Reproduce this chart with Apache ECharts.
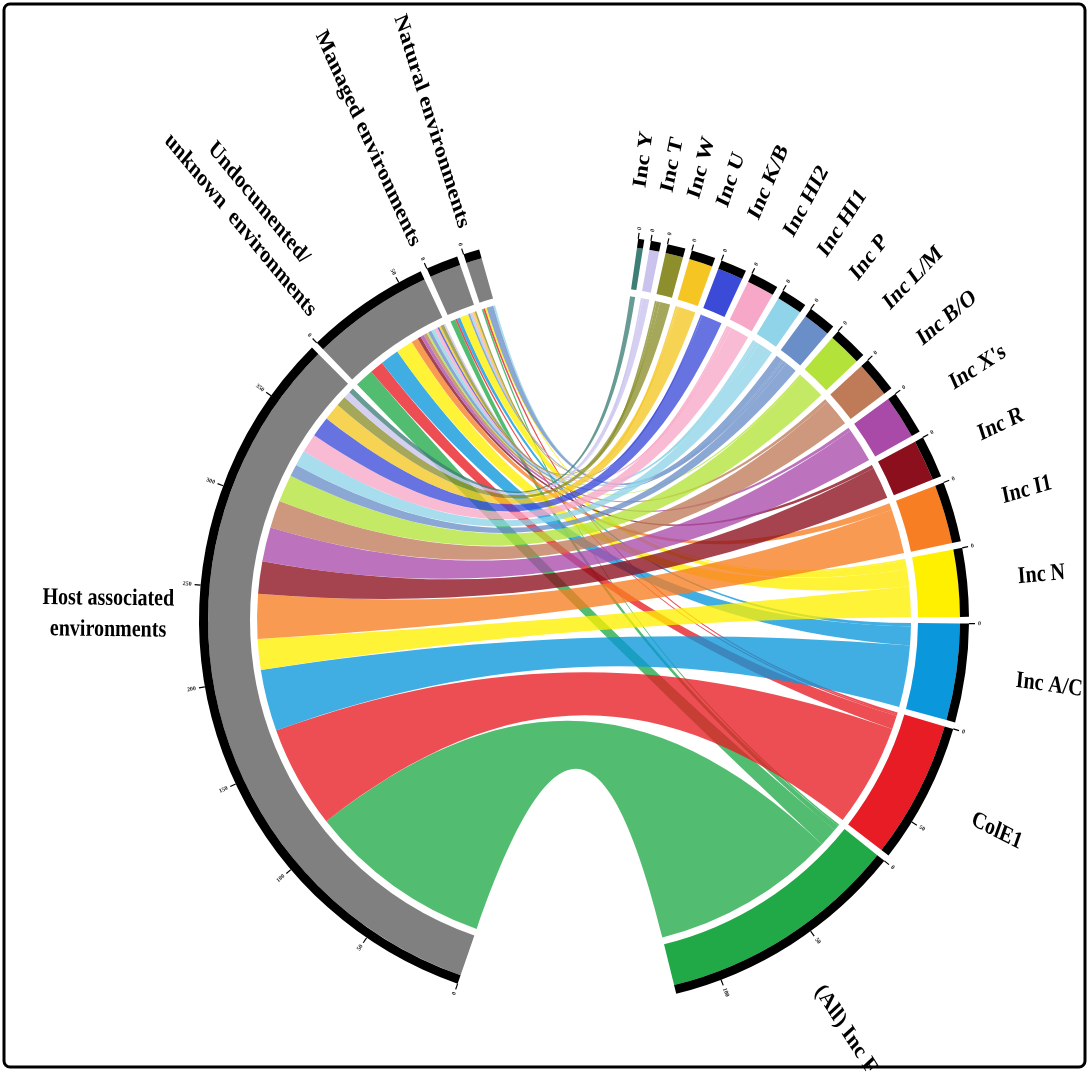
<!DOCTYPE html>
<html>
<head>
<meta charset="utf-8">
<title>Inc groups by environment</title>
<script src="https://cdn.jsdelivr.net/npm/echarts@6/dist/echarts.min.js"></script>
<style>
  html, body { margin: 0; padding: 0; background: #ffffff; }
  #main { width: 1091px; height: 1072px; }
</style>
</head>
<body>
<div id="main"></div>
<script>
// Replicon groups, in clockwise order from the top of the circle
const incNames = ['Inc Y', 'Inc T', 'Inc W', 'Inc U', 'Inc K/B', 'Inc HI2', 'Inc HI1', 'Inc P',
  'Inc L/M', 'Inc B/O', "Inc X's", 'Inc R', 'Inc I1', 'Inc N', 'Inc A/C', 'ColE1', '(All) Inc F'];

// Environment categories, clockwise from the bottom of the circle
const envNames = ['Host associated environments', 'Undocumented/ unknown environments',
  'Managed environments', 'Natural environments'];
const envLabels = ['Host associated\nenvironments', 'Undocumented/\nunknown  environments',
  'Managed environments', 'Natural environments'];

// Counts per replicon group (same order as incNames) for each environment
const toHost          = [3, 4, 6, 10, 12, 11, 9, 7, 16, 16, 20, 19, 26, 18, 36, 60, 108];
const toUndocumented  = [0, 1, 2, 1, 1, 2, 2, 2, 1, 2, 2, 2, 4, 10, 11, 8, 11];
const toManaged       = [0, 0, 1, 1, 0, 1, 1, 1, 0, 0, 0, 0, 0, 5, 2, 1, 3];
const toNatural       = [0, 0, 0, 0, 0, 0, 1, 4, 0, 0, 0, 0, 0, 1, 0, 1, 1];

// Axis tick step on the outer track
const tickStep = 50;

// ---- styling / layout ----
const incColors = ['#3d7f76', '#c9c3ee', '#8c8f2b', '#f5c623', '#3b4bd8', '#f7a8c8', '#8fd4e8',
  '#6a8ec8', '#b3e33a', '#bf7b58', '#a94aa9', '#8c0f1e', '#f77e22', '#fff000', '#0a97db',
  '#e81c24', '#21a948'];
const envColor = '#808080';
const CENTER = [584, 620];
const R_LINK = 327, R_IN = 334, R_OUT = 376, R_RING = 385;
const START_ANGLE = 81.9;
const PAD = 1.0;
// empty spans that open the circle at the top and bottom
const GAP_TOP = 72, GAP_BOTTOM = 102;
const LABEL_FONT = 'bold 20px "Liberation Serif", "Times New Roman", serif';
const TEXT_STRETCH = 1.2; // labels are drawn slightly tall
// label directions (degrees clockwise from 12 o'clock) where the sector middle is not used
const labelAngleOverride = {
  'Host associated environments': 270.7,
  'Undocumented/ unknown environments': 320.5,
  'Managed environments': 335.8,
  'Inc Y': 7.4,
  'Inc T': 11.0,
  'Inc W': 14.6,
  'Inc U': 18.5
};

const envSeries = [toHost, toUndocumented, toManaged, toNatural];

// Links: the largest groups first so they sit at the start of each environment arc
const links = [];
for (let i = incNames.length - 1; i >= 0; i--) {
  for (let e = envNames.length - 1; e >= 0; e--) {
    const v = envSeries[e][i];
    if (v > 0) links.push({ source: incNames[i], target: envNames[e], value: v });
  }
}

function buildNodes(incColorOf, envColorOf) {
  const list = incNames.map((n, i) => ({ name: n, itemStyle: { color: incColorOf(i) } }));
  list.push({ name: 'gap-bottom', value: GAP_BOTTOM, itemStyle: { color: 'rgba(0,0,0,0)' } });
  envNames.forEach((n) => list.push({ name: n, itemStyle: { color: envColorOf } }));
  list.push({ name: 'gap-top', value: GAP_TOP, itemStyle: { color: 'rgba(0,0,0,0)' } });
  return list;
}
const colorNodes = buildNodes((i) => incColors[i], envColor);
const ringNodes = buildNodes(() => '#000000', '#000000');

const nodeTotals = {};
links.forEach((l) => {
  nodeTotals[l.source] = (nodeTotals[l.source] || 0) + l.value;
  nodeTotals[l.target] = (nodeTotals[l.target] || 0) + l.value;
});

const common = {
  type: 'chord',
  center: CENTER,
  startAngle: START_ANGLE,
  clockwise: true,
  padAngle: PAD,
  minAngle: 0,
  label: { show: false },
  silent: true,
  animation: false,
  emphasis: { disabled: true },
  links: links
};

const chart = echarts.init(document.getElementById('main'), null, { renderer: 'canvas' });
chart.setOption({
  backgroundColor: '#ffffff',
  animation: false,
  series: [
    Object.assign({}, common, {
      id: 'ribbons', z: 1,
      radius: [R_LINK, R_LINK + 1],
      data: colorNodes,
      itemStyle: { opacity: 0, borderRadius: 0 },
      lineStyle: { color: 'source', opacity: 0.78, borderColor: '#ffffff', borderWidth: 0.8 }
    }),
    Object.assign({}, common, {
      id: 'sectors', z: 2,
      radius: [R_IN, R_OUT],
      data: colorNodes,
      itemStyle: { borderRadius: 0 },
      lineStyle: { opacity: 0 }
    }),
    Object.assign({}, common, {
      id: 'track', z: 2,
      radius: [R_OUT, R_RING],
      data: ringNodes,
      itemStyle: { borderRadius: 0 },
      lineStyle: { opacity: 0 }
    })
  ]
});

// ---- labels, ticks and frame placed from the computed sector layout ----
const measureCtx = document.createElement('canvas').getContext('2d');
measureCtx.font = LABEL_FONT;
function textWidth(s) {
  return Math.max.apply(null, s.split('\n').map((l) => measureCtx.measureText(l).width));
}

const graphics = [];
graphics.push({
  type: 'rect', z: 100,
  shape: { x: 4, y: 4, width: 1081, height: 1063, r: 6 },
  style: { fill: 'none', stroke: '#000000', lineWidth: 3 }
});

// text layer stretched vertically; children are given their final screen angle R
const labelGroup = { type: 'group', x: 0, y: 0, scaleY: TEXT_STRETCH, z: 60, children: [] };
function addLabel(p, R, style) {
  const psi = Math.atan2(Math.sin(R) / TEXT_STRETCH, Math.cos(R));
  labelGroup.children.push({ type: 'text', x: p[0], y: p[1] / TEXT_STRETCH, rotation: psi, style: style });
}
function stretchAlong(R) {
  return Math.sqrt(Math.cos(R) * Math.cos(R) + TEXT_STRETCH * TEXT_STRETCH * Math.sin(R) * Math.sin(R));
}

const nodeData = chart.getModel().getSeriesByIndex(1).getData();
const cx = CENTER[0], cy = CENTER[1];
function pt(a, r) { return [cx + r * Math.cos(a), cy + r * Math.sin(a)]; }

for (let i = 0; i < nodeData.count(); i++) {
  const name = nodeData.getName(i);
  const total = nodeTotals[name];
  if (!total) continue;
  const lay = nodeData.getItemLayout(i);
  if (!lay) continue;
  const a0 = lay.startAngle, a1 = lay.endAngle;
  const perUnit = (a1 - a0) / total;

  // ticks
  for (let k = 0; k * tickStep <= total + 1e-9; k++) {
    const a = a0 + k * tickStep * perUnit;
    const p1 = pt(a, R_RING), p2 = pt(a, R_RING + 6);
    graphics.push({ type: 'line', z: 50, shape: { x1: p1[0], y1: p1[1], x2: p2[0], y2: p2[1] },
      style: { stroke: '#000000', lineWidth: 1.2 } });
    const right = Math.cos(a) >= 0;
    const p3 = pt(a, R_RING + 9);
    graphics.push({ type: 'text', z: 50, x: p3[0], y: p3[1],
      rotation: right ? -a : Math.PI - a,
      style: { text: String(k * tickStep), font: 'bold 6px "Liberation Serif", serif', fill: '#222',
        align: right ? 'left' : 'right', verticalAlign: 'middle' } });
  }

  // name label
  let mid = (a0 + a1) / 2;
  if (labelAngleOverride[name] !== undefined) {
    mid = (labelAngleOverride[name] - 90) * Math.PI / 180;
  }
  const isEnv = envNames.indexOf(name) >= 0;
  const text = isEnv ? envLabels[envNames.indexOf(name)] : name;
  const right = Math.cos(mid) >= 0;
  if (right) {
    addLabel(pt(mid, 436), -mid,
      { text: text, font: LABEL_FONT, fill: '#000', align: 'left', verticalAlign: 'middle' });
  } else {
    const R = Math.PI - mid;
    const w = textWidth(text) * stretchAlong(R);
    addLabel(pt(mid, 410 + w / 2), R,
      { text: text, font: LABEL_FONT, fill: '#000', align: 'center', verticalAlign: 'middle', lineHeight: 26 });
  }
}
graphics.push(labelGroup);

chart.setOption({ graphic: graphics });
</script>
</body>
</html>
